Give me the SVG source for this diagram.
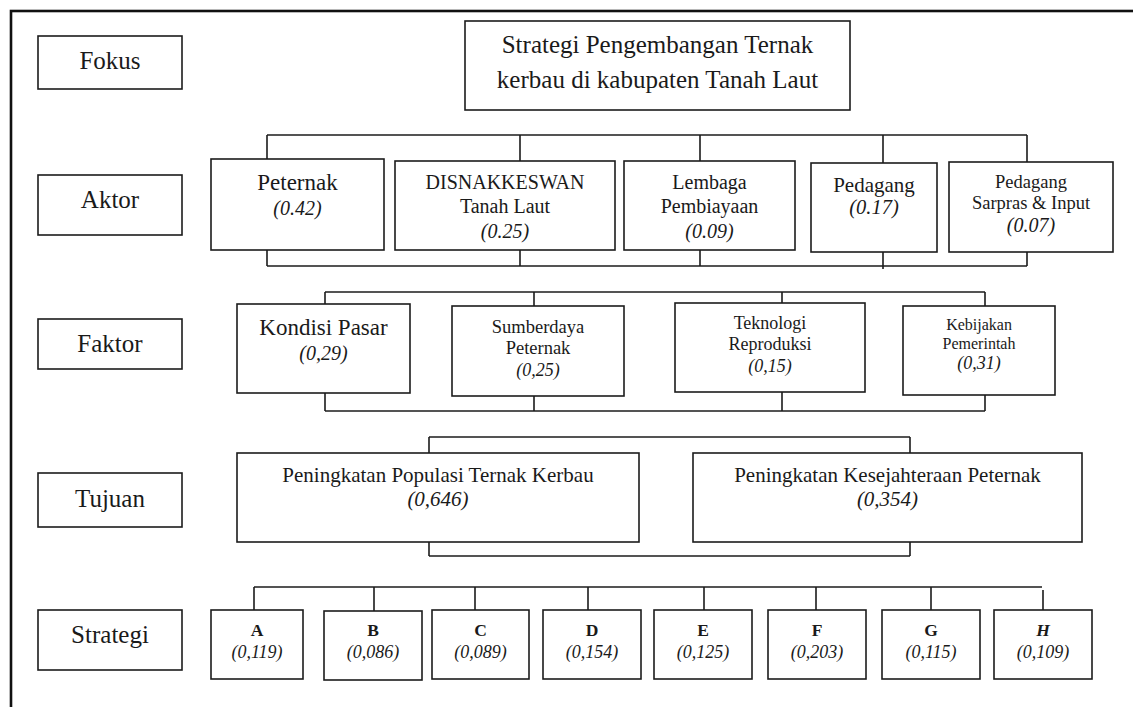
<svg xmlns="http://www.w3.org/2000/svg" width="1133" height="707" viewBox="0 0 1133 707">
<style>
.bx{fill:#fff;stroke:#1c1c1c;stroke-width:1.6}
.ln{fill:none;stroke:#1c1c1c;stroke-width:1.6}
text{font-family:"Liberation Serif","Times New Roman",serif;fill:#1a1a1a;text-anchor:middle}
.v{font-style:italic}
.b{font-weight:bold}
</style>
<rect x="0" y="0" width="1133" height="707" fill="#fff"/>
<rect x="11" y="11" width="1140" height="710" fill="none" stroke="#111" stroke-width="2.6"/>

<g id="connectors">
  <!-- Aktor -->
  <path class="ln" d="M267,135H1027M267,135V159M520,135V161M700,135V161M883,135V163M1027,135V162"/>
  <path class="ln" d="M267,266H1027M267,250V266M520,250V266M700,250V266M883,252V269M1027,252V266"/>
  <!-- Faktor -->
  <path class="ln" d="M325,292H985M325,292V304M534,292V306M782,292V303M985,292V306"/>
  <path class="ln" d="M325,411H985M325,393V411M534,396V411M782,392V411M985,395V411"/>
  <!-- Tujuan -->
  <path class="ln" d="M429,437H910M429,437V453M910,437V453"/>
  <path class="ln" d="M429,556H910M429,542V556M910,542V556"/>
  <!-- Strategi -->
  <path class="ln" d="M254,587H1042M254,587V610M374,587V611M475,587V610M588,587V610M704,587V610M816,587V610M931,587V610M1043,590V610"/>
</g>

<g id="label-fokus"><rect class="bx" x="38" y="36" width="144" height="53"/><text x="110" y="69" font-size="25">Fokus</text></g>
<g id="label-aktor"><rect class="bx" x="38" y="175" width="144" height="60"/><text x="110" y="208" font-size="25">Aktor</text></g>
<g id="label-faktor"><rect class="bx" x="38" y="319" width="144" height="50"/><text x="110" y="352" font-size="25">Faktor</text></g>
<g id="label-tujuan"><rect class="bx" x="38" y="473" width="144" height="54"/><text x="110" y="507" font-size="25">Tujuan</text></g>
<g id="label-strategi"><rect class="bx" x="38" y="610" width="144" height="60"/><text x="110" y="643" font-size="25">Strategi</text></g>

<g id="fokus"><rect class="bx" x="465" y="21" width="385" height="89"/>
  <text x="657.5" y="53" font-size="25">Strategi Pengembangan Ternak</text>
  <text x="657.5" y="88" font-size="25">kerbau di kabupaten Tanah Laut</text></g>

<g id="aktor-peternak"><rect class="bx" x="211" y="159" width="173" height="91"/>
  <text x="297.5" y="190" font-size="23">Peternak</text>
  <text class="v" x="297.5" y="215" font-size="20">(0.42)</text></g>
<g id="aktor-disnakkeswan"><rect class="bx" x="395" y="161" width="220" height="89"/>
  <text x="505" y="189" font-size="20">DISNAKKESWAN</text>
  <text x="505" y="213" font-size="20">Tanah Laut</text>
  <text class="v" x="505" y="238" font-size="20">(0.25)</text></g>
<g id="aktor-lembaga"><rect class="bx" x="624" y="161" width="171" height="89"/>
  <text x="709.5" y="189" font-size="20">Lembaga</text>
  <text x="709.5" y="213" font-size="20">Pembiayaan</text>
  <text class="v" x="709.5" y="238" font-size="20">(0.09)</text></g>
<g id="aktor-pedagang"><rect class="bx" x="811" y="163" width="126" height="89"/>
  <text x="874" y="192" font-size="21">Pedagang</text>
  <text class="v" x="874" y="214" font-size="20.5">(0.17)</text></g>
<g id="aktor-sarpras"><rect class="bx" x="949" y="162" width="164" height="90"/>
  <text x="1031" y="188" font-size="18.5">Pedagang</text>
  <text x="1031" y="209" font-size="18.5">Sarpras &amp; Input</text>
  <text class="v" x="1031" y="232" font-size="20">(0.07)</text></g>

<g id="faktor-pasar"><rect class="bx" x="237" y="304" width="173" height="89"/>
  <text x="323.5" y="335" font-size="23">Kondisi Pasar</text>
  <text class="v" x="323.5" y="360" font-size="20">(0,29)</text></g>
<g id="faktor-sumberdaya"><rect class="bx" x="452" y="306" width="172" height="90"/>
  <text x="538" y="333" font-size="18.5">Sumberdaya</text>
  <text x="538" y="354" font-size="18.5">Peternak</text>
  <text class="v" x="538" y="376" font-size="18">(0,25)</text></g>
<g id="faktor-teknologi"><rect class="bx" x="675" y="303" width="190" height="89"/>
  <text x="770" y="329" font-size="18">Teknologi</text>
  <text x="770" y="350" font-size="18">Reproduksi</text>
  <text class="v" x="770" y="372" font-size="18">(0,15)</text></g>
<g id="faktor-kebijakan"><rect class="bx" x="903" y="306" width="152" height="89"/>
  <text x="979" y="330" font-size="16">Kebijakan</text>
  <text x="979" y="349" font-size="16">Pemerintah</text>
  <text class="v" x="979" y="369" font-size="18">(0,31)</text></g>

<g id="tujuan-populasi"><rect class="bx" x="237" y="453" width="402" height="89"/>
  <text x="438" y="482" font-size="21">Peningkatan Populasi Ternak Kerbau</text>
  <text class="v" x="438" y="506" font-size="21">(0,646)</text></g>
<g id="tujuan-kesejahteraan"><rect class="bx" x="693" y="453" width="389" height="89"/>
  <text x="887.5" y="482" font-size="21">Peningkatan Kesejahteraan Peternak</text>
  <text class="v" x="887.5" y="506" font-size="21">(0,354)</text></g>

<g id="strategi-a"><rect class="bx" x="211" y="610" width="92" height="69"/>
  <text class="b" x="257" y="636" font-size="17.5">A</text><text class="v" x="257" y="658" font-size="18">(0,119)</text></g>
<g id="strategi-b"><rect class="bx" x="324" y="611" width="98" height="69"/>
  <text class="b" x="373" y="636" font-size="17.5">B</text><text class="v" x="373" y="658" font-size="18">(0,086)</text></g>
<g id="strategi-c"><rect class="bx" x="432" y="610" width="97" height="69"/>
  <text class="b" x="480.5" y="636" font-size="17.5">C</text><text class="v" x="480.5" y="658" font-size="18">(0,089)</text></g>
<g id="strategi-d"><rect class="bx" x="543" y="610" width="98" height="69"/>
  <text class="b" x="592" y="636" font-size="17.5">D</text><text class="v" x="592" y="658" font-size="18">(0,154)</text></g>
<g id="strategi-e"><rect class="bx" x="654" y="610" width="98" height="69"/>
  <text class="b" x="703" y="636" font-size="17.5">E</text><text class="v" x="703" y="658" font-size="18">(0,125)</text></g>
<g id="strategi-f"><rect class="bx" x="768" y="610" width="98" height="69"/>
  <text class="b" x="817" y="636" font-size="17.5">F</text><text class="v" x="817" y="658" font-size="18">(0,203)</text></g>
<g id="strategi-g"><rect class="bx" x="882" y="610" width="98" height="69"/>
  <text class="b" x="931" y="636" font-size="17.5">G</text><text class="v" x="931" y="658" font-size="18">(0,115)</text></g>
<g id="strategi-h"><rect class="bx" x="994" y="610" width="98" height="69"/>
  <text class="b v" x="1043" y="636" font-size="17.5">H</text><text class="v" x="1043" y="658" font-size="18">(0,109)</text></g>
</svg>
